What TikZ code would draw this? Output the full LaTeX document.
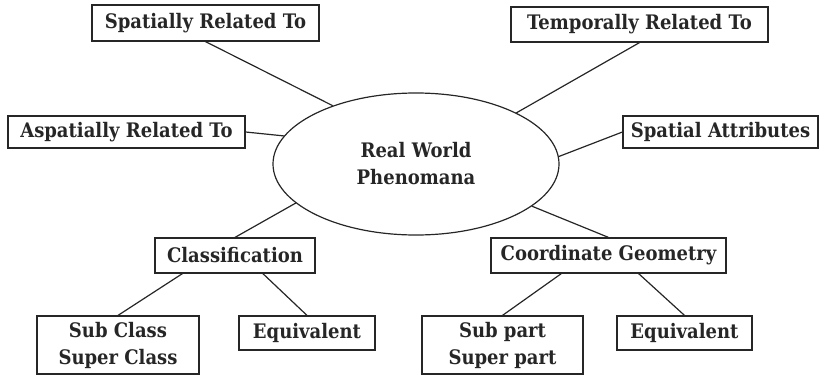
\documentclass[tikz,border=0pt]{standalone}
\usepackage{fontspec}
\setmainfont[FakeStretch=0.9]{DejaVu Serif}
\usetikzlibrary{shapes.geometric}

\begin{document}
\begin{tikzpicture}[
    x=0.5pt, y=-0.5pt,
    every node/.style={font=\fontsize{10}{13.5}\selectfont\bfseries, text=black!85},
    box/.style={rectangle, draw=black!85, line width=0.6pt, align=center, inner sep=0pt},
    hub/.style={ellipse, draw=black!85, line width=0.6pt, align=center, inner sep=0pt},
    link/.style={draw=black!85, line width=0.6pt}
]
\useasboundingbox (0,0) rectangle (819,375);
% centre
\node[hub, minimum width=143pt, minimum height=71pt] (rwp) at (416,164) {Real World\\Phenomana};
% relations around the centre
\node[box, minimum width=113.5pt, minimum height=18pt] (spat) at (205.5,23) {Spatially Related To};
\node[box, minimum width=118.5pt, minimum height=16pt] (aspat) at (126.5,132) {Aspatially Related To};
\node[box, minimum width=128.5pt, minimum height=17.5pt] (temp) at (639.5,24.5) {Temporally Related To};
\node[box, minimum width=97.5pt, minimum height=16pt] (sattr) at (720.5,132) {Spatial Attributes};
\node[box, minimum width=80pt, minimum height=17.5pt] (class) at (235,255.5) {Classification};
\node[box, minimum width=117.5pt, minimum height=17.5pt] (coord) at (608.5,255.5) {Coordinate Geometry};
% leaves
\node[box, minimum width=81pt, minimum height=29pt] (subc) at (118,345) {Sub Class\\Super Class};
\node[box, minimum width=68pt, minimum height=17pt] (eqc) at (307,333) {Equivalent};
\node[box, minimum width=80.5pt, minimum height=29pt] (subp) at (502.5,345) {Sub part\\Super part};
\node[box, minimum width=67.5pt, minimum height=17pt] (eqg) at (684.5,333) {Equivalent};
\draw[link] (spat.south)--(rwp.145); \draw[link] (aspat.east)--(rwp.168);
\draw[link] (temp.south)--(rwp.27); \draw[link] (sattr.west)--(rwp.3);
\draw[link] (class.north)--(rwp.198); \draw[link] (coord.north)--(rwp.340);
\draw[link] (class.199)--(subc.north); \draw[link] (class.327)--(eqc.north);
\draw[link] (coord.201)--(subp.north); \draw[link] (coord.329)--(eqg.north);
\end{tikzpicture}
\end{document}
